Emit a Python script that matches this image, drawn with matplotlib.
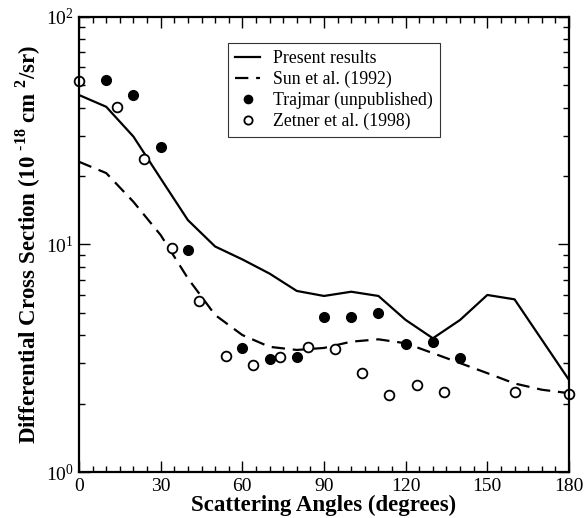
import numpy as np
import matplotlib
matplotlib.use("Agg")
import matplotlib.pyplot as plt
from matplotlib.ticker import MultipleLocator, LogLocator, NullFormatter

plt.rcParams['font.family'] = ['Liberation Serif', 'DejaVu Serif']
plt.rcParams['mathtext.fontset'] = 'custom'
plt.rcParams['mathtext.rm'] = 'Liberation Serif'
plt.rcParams['mathtext.bf'] = 'Liberation Serif:bold'

# present results (solid)
present_ang = [0, 10, 20, 30, 40, 50, 60, 70, 80, 90, 100, 110, 120, 130, 140, 150, 160, 180]
present_dcs = [45.4, 40.3, 29.8, 19.5, 12.8, 9.8, 8.6, 7.45, 6.25, 5.94, 6.2, 5.94, 4.66, 3.87, 4.66, 6.0, 5.74, 2.54]

# Sun et al. (1992) (dashed)
sun_ang = [0, 10, 20, 30, 40, 50, 60, 70, 80, 90, 100, 110, 120, 130, 140, 150, 160, 170, 180]
sun_dcs = [23.1, 20.6, 15.4, 11.0, 7.1, 4.9, 4.0, 3.55, 3.44, 3.51, 3.74, 3.83, 3.68, 3.33, 3.01, 2.72, 2.45, 2.3, 2.22]

# Trajmar (unpublished)
trajmar_ang = [10, 20, 30, 40, 60, 70, 80, 90, 100, 110, 120, 130, 140]
trajmar_dcs = [52.9, 45.4, 26.9, 9.46, 3.5, 3.14, 3.21, 4.79, 4.79, 5.02, 3.65, 3.74, 3.16]

# Zetner et al. (1998)
zetner_ang = [0, 14, 24, 34, 44, 54, 64, 74, 84, 94, 104, 114, 124, 134, 160, 180]
zetner_dcs = [52.5, 40.1, 23.7, 9.62, 5.66, 3.25, 2.95, 3.21, 3.53, 3.47, 2.73, 2.19, 2.41, 2.25, 2.25, 2.2]

fig = plt.figure(figsize=(5.87, 5.18), dpi=100)
ax = fig.add_axes([0.1346, 0.0888, 0.8347, 0.8784])

ax.plot(present_ang, present_dcs, color='black', lw=1.6, label='Present results')
ax.plot(sun_ang, sun_dcs, color='black', lw=1.6, dashes=(6, 3.5), label='Sun et al. (1992)')
ax.plot(trajmar_ang, trajmar_dcs, 'o', color='black', ms=7, ls='none', label='Trajmar (unpublished)')
ax.plot(zetner_ang, zetner_dcs, 'o', mfc='white', mec='black', mew=1.3, ms=7, ls='none',
        label='Zetner et al. (1998)', clip_on=False)

ax.set_yscale('log')
ax.set_xlim(0, 180)
ax.set_ylim(1, 100)
ax.xaxis.set_major_locator(MultipleLocator(30))
ax.xaxis.set_minor_locator(MultipleLocator(5))
ax.yaxis.set_major_locator(LogLocator(base=10))
ax.yaxis.set_minor_locator(LogLocator(base=10, subs=np.arange(2, 10)))
ax.yaxis.set_minor_formatter(NullFormatter())

ax.tick_params(which='both', direction='in', top=True, right=True, labelsize=14, width=1.0)
ax.tick_params(which='major', length=8, pad=4)
ax.tick_params(which='minor', length=4)
for s in ax.spines.values():
    s.set_linewidth(1.6)

ax.set_xlabel('Scattering Angles (degrees)', fontsize=16.5, fontweight='bold', labelpad=0)
ax.set_ylabel('Differential Cross Section (10 $^{\\mathbf{\u201018}}$ cm $^{\\mathbf{2}}$/sr)',
              fontsize=16.5, fontweight='bold', labelpad=2)

leg = ax.legend(loc='upper left', bbox_to_anchor=(0.3047, 0.942), borderaxespad=0,
                fontsize=12.8, frameon=True, fancybox=False, edgecolor='black',
                handlelength=1.4, handletextpad=0.73, borderpad=0.4, labelspacing=0.2,
                markerscale=0.85)
leg.get_frame().set_linewidth(0.8)

fig.savefig('out.png', dpi=100)
